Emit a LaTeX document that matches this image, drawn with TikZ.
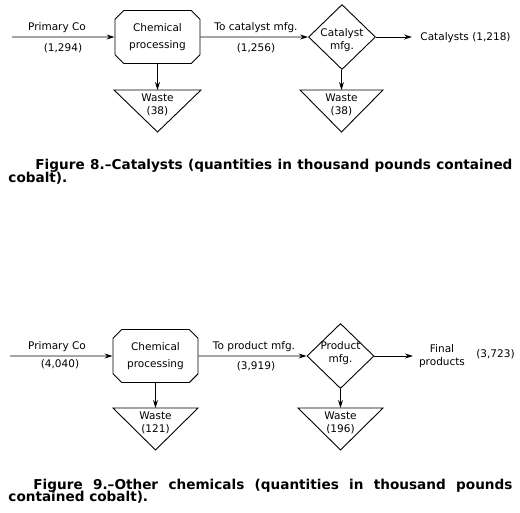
\documentclass[tikz,border=0pt]{standalone}
\usepackage{fontspec}
\setmainfont{DejaVu Sans}
\usetikzlibrary{shapes.geometric,shapes.misc,arrows.meta,positioning}

\begin{document}
\begin{tikzpicture}[x=1pt,y=-1pt,
  line width=0.9pt,
  >={Stealth[length=8pt,width=5pt]},
  octbox/.style={chamfered rectangle,chamfered rectangle xsep=5pt,draw,
                 minimum width=85pt,minimum height=53pt,inner sep=0pt,align=center,
                 font=\fontsize{10.5}{17}\selectfont},
  dia/.style={diamond,draw,minimum width=67pt,minimum height=65pt,inner sep=0pt},
  lbl/.style={font=\fontsize{10.5}{12}\selectfont,inner sep=0pt,anchor=base},
  mlbl/.style={font=\fontsize{10.5}{13}\selectfont,inner sep=0pt,align=center},
  captext/.style={font=\bfseries\fontsize{13.6}{15}\selectfont,inner sep=0pt,anchor=base west},
  arrow/.style={->}
]
\useasboundingbox (0,0) rectangle (520,512);

% Figure 8 - catalysts
\coordinate (in1) at (12,37);
\node[octbox] (chem1) at (157.5,37) {Chemical\\processing};
\node[dia] (cat1) at (342,37) {};
\node[mlbl] (cat1t) at (342,40.5) {Catalyst\\mfg.};
\coordinate (out1) at (412,37);
\coordinate (w1top) at (157.5,90);
\coordinate (w2top) at (341.5,90);

\node[lbl] (pc1) at (57,30.8) {Primary Co};
\node[lbl] (pc1q) at (63,51.8) {(1,294)};
\node[lbl] (tc1) at (256,30.8) {To catalyst mfg.};
\node[lbl] (tc1q) at (256,51.8) {(1,256)};
\node[lbl,anchor=base west] (fin1) at (420,40.8) {Catalysts (1,218)};

\draw (114,90) -- (201,90) -- (157.5,132) -- cycle;
\draw (300,90) -- (383,90) -- (341.5,132) -- cycle;
\node[mlbl] (w1) at (157.5,104.5) {Waste\\(38)};
\node[mlbl] (w2) at (341.5,104.5) {Waste\\(38)};

\draw[arrow] (in1) -- (chem1);
\draw[arrow] (chem1) -- (cat1);
\draw[arrow] (cat1) -- (out1);
\draw[arrow] (chem1) -- (w1top);
\draw[arrow] (cat1.south -| w2top) -- (w2top);

\node[captext] (cap8a) at (35,169) {\makebox[477pt][s]{Figure 8.\textendash Catalysts (quantities in thousand pounds contained}};
\node[captext] (cap8b) at (8,182.5) {cobalt).};

% Figure 9 - other chemicals
\coordinate (in2) at (10,356);
\node[octbox] (chem2) at (155.5,356) {Chemical\\processing};
\node[dia] (prod2) at (340.5,356) {};
\node[mlbl] (prod2t) at (340.5,353.5) {Product\\mfg.};
\coordinate (out2) at (413,356);
\coordinate (w3top) at (155.5,408);
\coordinate (w4top) at (340.5,408);

\node[lbl] (pc2) at (57,349.8) {Primary Co};
\node[lbl] (pc2q) at (60,367.8) {(4,040)};
\node[lbl] (tp2) at (254,349.2) {To product mfg.};
\node[lbl] (tp2q) at (256,369.8) {(3,919)};
\node[mlbl] (fin2) at (442,356.5) {Final\\products};
\node[lbl] (fin2q) at (495.5,357) {(3,723)};

\draw (113,408) -- (198,408) -- (155.5,450) -- cycle;
\draw (298,408) -- (383,408) -- (340.5,450) -- cycle;
\node[mlbl] (w3) at (155.5,422.5) {Waste\\(121)};
\node[mlbl] (w4) at (340.5,422.5) {Waste\\(196)};

\draw[arrow] (in2) -- (chem2);
\draw[arrow] (chem2) -- (prod2);
\draw[arrow] (prod2) -- (out2);
\draw[arrow] (chem2) -- (w3top);
\draw[arrow] (prod2) -- (w4top);

\node[captext] (cap9a) at (33,489) {\makebox[479pt][s]{Figure 9.\textendash Other chemicals (quantities in thousand pounds}};
\node[captext] (cap9b) at (8,501.5) {contained cobalt).};
\end{tikzpicture}
\end{document}
